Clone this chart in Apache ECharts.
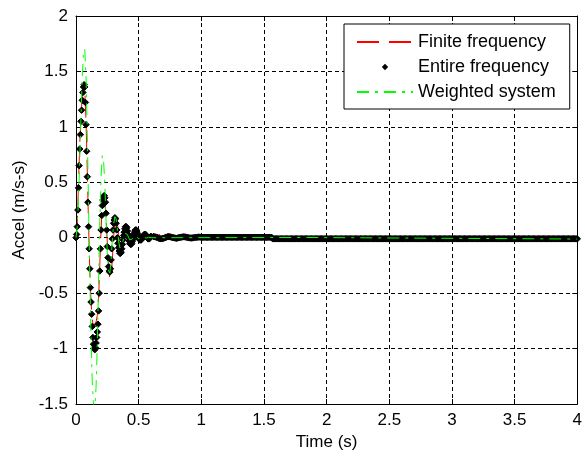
<!DOCTYPE html>
<html>
<head>
<meta charset="UTF-8">
<title>Accel response</title>
<script src="https://cdn.jsdelivr.net/npm/echarts@6/dist/echarts.min.js"></script>
</head>
<body style="margin:0;background:#fff">
<div id="main" style="width:585px;height:459px;"></div>
<script>
// Entire frequency: samples every 0.005 s from 0 to 0.6 s
var entireHead = [
    0, 0.03, 0.1, 0.25, 0.45, 0.65, 0.8, 0.93, 1.05, 1.15,
    1.24, 1.31, 1.36, 1.38, 1.36, 1.22, 1.02, 0.78, 0.55, 0.32,
    0.1, -0.1, -0.28, -0.45, -0.58, -0.69, -0.8, -0.9, -0.96, -1.0,
    -1.01, -0.99, -0.95, -0.9, -0.85, -0.78, -0.66, -0.5, -0.3, -0.1,
    0.07, 0.2, 0.29, 0.34, 0.37, 0.38, 0.36, 0.32, 0.22, 0.07,
    -0.08, -0.18, -0.26, -0.3, -0.31, -0.28, -0.2, -0.1, -0.01, 0.07,
    0.13, 0.16, 0.18, 0.17, 0.13, 0.07, 0, -0.05, -0.09, -0.12,
    -0.14, -0.14, -0.13, -0.1, -0.06, -0.02, 0.02, 0.05, 0.08, 0.1,
    0.1, 0.09, 0.06, 0.03, 0, -0.03, -0.05, -0.06, -0.06, -0.05,
    -0.03, -0.01, 0.02, 0.04, 0.06, 0.07, 0.07, 0.06, 0.04, 0.02,
    0, -0.01, -0.02, -0.02, -0.02, -0.01, 0, 0.01, 0.02, 0.03,
    0.03, 0.03, 0.02, 0.01, 0, -0.01, -0.01, -0.01, 0, 0.01,
    0.01
];
// Entire frequency: samples every 0.01 s from 0.62 to 4 s
var entireTail = [
    0.01, 0.008, 0.005, 0, -0.005, -0.008, -0.01, -0.008, -0.005, 0,
    0.005, 0.008, 0.01, 0.008, 0.005, 0.002, 0, -0.003, -0.005, -0.003,
    0, 0.003, 0.005, 0.007, 0.008, 0.007, 0.005, 0.002, 0, -0.002,
    -0.003, -0.002, 0, 0.002, 0.004, 0.005, 0.006, 0.005, 0.004, 0.004,
    0.004, 0.004, 0.004, 0.004, 0.004, 0.004, 0.004, 0.004, 0.004, 0.004,
    0.004, 0.004, 0.004, 0.004, 0.004, 0.004, 0.004, 0.004, 0.004, 0.004,
    0.004, 0.004, 0.004, 0.004, 0.004, 0.004, 0.004, 0.004, 0.004, 0.004,
    0.004, 0.004, 0.004, 0.004, 0.004, 0.004, 0.004, 0.004, 0.004, 0.004,
    0.004, 0.004, 0.004, 0.004, 0.004, 0.004, 0.004, 0.004, 0.004, 0.004,
    0.004, 0.004, 0.004, 0.004, 0.004,
    -0.01, -0.01, -0.01, -0.01, -0.01, -0.01, -0.01, -0.01, -0.01, -0.01,
    -0.01, -0.01, -0.01, -0.01, -0.01, -0.01, -0.01, -0.01, -0.01, -0.01,
    -0.01, -0.01, -0.01, -0.01, -0.01, -0.01, -0.01, -0.01, -0.01, -0.01,
    -0.01, -0.01, -0.01, -0.01, -0.01, -0.01, -0.01, -0.01, -0.01, -0.01,
    -0.01, -0.01, -0.01, -0.01, -0.01, -0.01, -0.01, -0.01, -0.01, -0.01,
    -0.01, -0.01, -0.01, -0.01, -0.01, -0.01, -0.01, -0.01, -0.01, -0.01,
    -0.01, -0.01, -0.01, -0.01, -0.01, -0.01, -0.01, -0.01, -0.01, -0.01,
    -0.01, -0.01, -0.01, -0.01, -0.01, -0.01, -0.01, -0.01, -0.01, -0.01,
    -0.01, -0.01, -0.01, -0.01, -0.01, -0.01, -0.01, -0.01, -0.01, -0.01,
    -0.01, -0.01, -0.01, -0.01, -0.01, -0.01, -0.01, -0.01, -0.01, -0.01,
    -0.01, -0.01, -0.01, -0.01, -0.01, -0.01, -0.01, -0.01, -0.01, -0.01,
    -0.01, -0.01, -0.01, -0.01, -0.01, -0.01, -0.01, -0.01, -0.01, -0.01,
    -0.01, -0.01, -0.01, -0.01, -0.01, -0.01, -0.01, -0.01, -0.01, -0.01,
    -0.01, -0.01, -0.01, -0.01, -0.01, -0.01, -0.01, -0.01, -0.01, -0.01,
    -0.01, -0.01, -0.01, -0.01, -0.01, -0.01, -0.01, -0.01, -0.01, -0.01,
    -0.01, -0.01, -0.01, -0.01, -0.01, -0.01, -0.01, -0.01, -0.01, -0.01,
    -0.01, -0.01, -0.01, -0.01, -0.01, -0.01, -0.01, -0.01, -0.01, -0.01,
    -0.01, -0.01, -0.01, -0.01, -0.01, -0.01, -0.01, -0.01, -0.01, -0.01,
    -0.01, -0.01, -0.01, -0.01, -0.01, -0.01, -0.01, -0.01, -0.01, -0.01,
    -0.01, -0.01, -0.01, -0.01, -0.01, -0.01, -0.01, -0.01, -0.01, -0.01,
    -0.01, -0.01, -0.01, -0.01, -0.01, -0.01, -0.01, -0.01, -0.01, -0.01,
    -0.01, -0.01, -0.01, -0.01, -0.01, -0.01, -0.01, -0.01, -0.01, -0.01,
    -0.01, -0.01, -0.01, -0.01, -0.01, -0.01, -0.01, -0.01, -0.01, -0.01,
    -0.01, -0.01, -0.01, -0.01, -0.01, -0.01, -0.01, -0.01, -0.01, -0.01,
    -0.01, -0.01, -0.01, -0.01
];

// Finite frequency: every 0.01 s from 0 to 0.8 s, then a few tail points
var finiteHead = [
    0, 0.12, 0.5, 0.85, 1.1, 1.28, 1.36, 1.33, 1.05, 0.6,
    0.12, -0.3, -0.58, -0.74, -0.8, -0.8, -0.76, -0.7, -0.55, -0.25,
    0.08, 0.28, 0.35, 0.33, 0.18, -0.05, -0.25, -0.38, -0.36, -0.2,
    0, 0.14, 0.19, 0.14, 0.03, -0.08, -0.13, -0.1, -0.03, 0.04,
    0.08, 0.07, 0.02, -0.03, -0.05, -0.04, 0, 0.04, 0.05, 0.04,
    0.01, -0.01, -0.02, -0.01, 0.02, 0.04, 0.04, 0.02, 0, 0.01,
    0.03, 0.045, 0.035, 0.01, 0, 0.01, 0.03, 0.035, 0.02, 0.005,
    0, 0.01, 0.02, 0.015, 0.005, 0.003, 0.008, 0.01, 0.006, 0.004,
    0.004
];
var finiteTailT = [1.56, 1.57, 4.0];
var finiteTailV = [0.004, -0.01, -0.01];

// Weighted system: every 0.01 s from 0 to 0.6 s, then a few tail points
var weightedHead = [
    0, 0.1, 0.35, 0.7, 1.1, 1.45, 1.68, 1.7, 1.45, 0.95,
    0.3, -0.35, -0.9, -1.3, -1.52, -1.55, -1.35, -0.95, -0.4, 0.15,
    0.55, 0.74, 0.7, 0.48, 0.15, -0.15, -0.3, -0.32, -0.2, -0.02,
    0.12, 0.19, 0.17, 0.08, -0.03, -0.09, -0.1, -0.06, 0, 0.04,
    0.05, 0.03, 0, -0.02, -0.025, -0.01, 0.01, 0.02, 0.015, 0,
    -0.01, -0.01, 0, 0.01, 0.01, 0, -0.005, 0, 0.005, 0.005,
    0
];
var weightedTailT = [1.85, 1.86, 4.0];
var weightedTailV = [0.002, -0.012, -0.012];

var names = ['Finite frequency', 'Entire frequency', 'Weighted system'];
var font = 'Liberation Sans, Arial, Helvetica, sans-serif';

function sampled(values, t0, dt) {
    return values.map(function (v, i) { return [+(t0 + i * dt).toFixed(3), v]; });
}
function paired(ts, vs) {
    return ts.map(function (t, i) { return [t, vs[i]]; });
}

var finiteData = sampled(finiteHead, 0, 0.01).concat(paired(finiteTailT, finiteTailV));
var entireData = sampled(entireHead, 0, 0.005).concat(sampled(entireTail, 0.62, 0.01));
var weightedData = sampled(weightedHead, 0, 0.01).concat(paired(weightedTailT, weightedTailV));

var chart = echarts.init(document.getElementById('main'));

var tickStyle = { show: true, inside: true, length: 5, lineStyle: { color: '#000', width: 1 } };
var frameLine = { show: true, onZero: false, lineStyle: { color: '#000', width: 1 } };
var gridLine = { show: true, lineStyle: { color: '#000', width: 1, type: [4, 3] } };
var labelStyle = { color: '#000', fontSize: 17, fontFamily: font };

chart.setOption({
    animation: false,
    backgroundColor: '#fff',
    grid: { left: 76, top: 16, width: 507, height: 388 },
    legend: {
        orient: 'vertical',
        left: 344,
        top: 24,
        padding: [8, 14, 7, 12],
        itemWidth: 56,
        itemHeight: 8,
        itemGap: 5,
        backgroundColor: '#fff',
        borderColor: '#000',
        borderWidth: 1,
        selectedMode: false,
        textStyle: { color: '#000', fontSize: 18, fontFamily: font, lineHeight: 20 },
        data: [
            { name: names[0], itemStyle: { opacity: 0 } },
            { name: names[1], itemStyle: { borderWidth: 0 } },
            { name: names[2], itemStyle: { opacity: 0 } }
        ]
    },
    xAxis: [{
        type: 'value', min: 0, max: 4, interval: 0.5,
        name: 'Time (s)', nameLocation: 'middle', nameGap: 26,
        nameTextStyle: labelStyle,
        axisLine: frameLine, axisTick: tickStyle, splitLine: gridLine,
        axisLabel: { margin: 8, color: '#000', fontSize: 17, fontFamily: font }
    }, {
        type: 'value', min: 0, max: 4, interval: 0.5, position: 'top',
        axisLine: frameLine, axisTick: tickStyle, splitLine: { show: false },
        axisLabel: { show: false }
    }],
    yAxis: [{
        type: 'value', min: -1.5, max: 2, interval: 0.5,
        name: 'Accel (m/s-s)', nameLocation: 'middle', nameGap: 48,
        nameTextStyle: labelStyle,
        axisLine: frameLine, axisTick: tickStyle, splitLine: gridLine,
        axisLabel: { margin: 8, color: '#000', fontSize: 17, fontFamily: font }
    }, {
        type: 'value', min: -1.5, max: 2, interval: 0.5, position: 'right',
        axisLine: frameLine, axisTick: tickStyle, splitLine: { show: false },
        axisLabel: { show: false }
    }],
    series: [{
        name: names[0],
        type: 'line',
        z: 2,
        data: finiteData,
        symbol: 'none',
        itemStyle: { color: '#ff0000' },
        lineStyle: { color: '#ff0000', width: 1, type: [22, 10] }
    }, {
        name: names[1],
        type: 'line',
        z: 3,
        data: entireData,
        symbol: 'diamond',
        symbolSize: 6.5,
        showSymbol: true,
        itemStyle: { color: '#000', borderColor: '#000', borderWidth: 1 },
        lineStyle: { width: 0, opacity: 0 }
    }, {
        name: names[2],
        type: 'line',
        z: 4,
        data: weightedData,
        symbol: 'none',
        itemStyle: { color: '#00ff00' },
        lineStyle: { color: '#00ff00', width: 1, type: [12, 6, 3, 6] }
    }]
});
</script>
</body>
</html>
